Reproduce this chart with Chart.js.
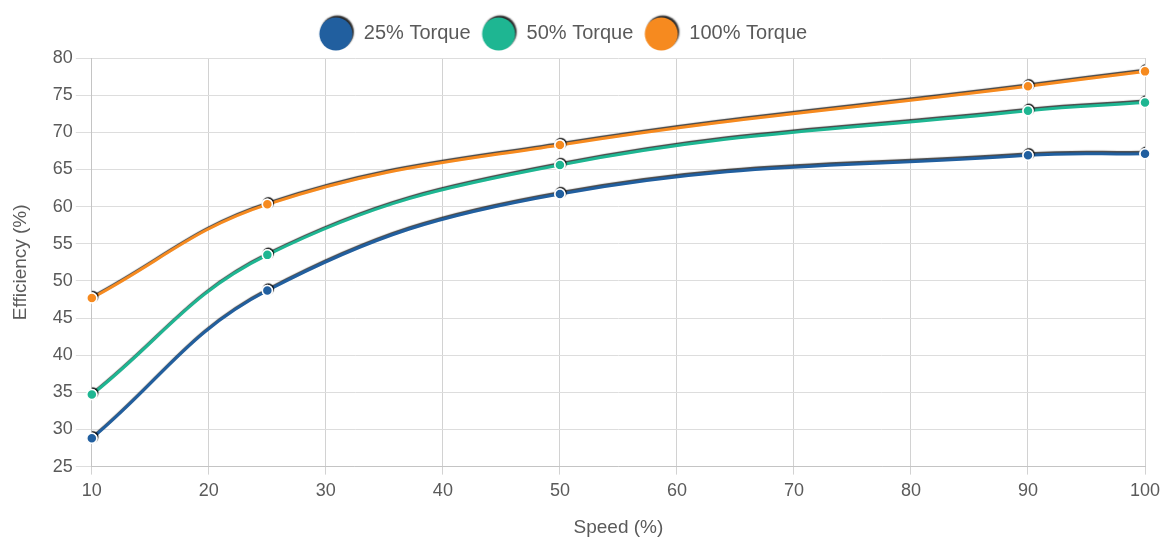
<!DOCTYPE html>
<html lang="en">
<head>
  <meta charset="UTF-8" />
  <title>Efficiency vs Speed</title>
  <script src="https://cdn.jsdelivr.net/npm/chart.js"></script>
  <style>
    html, body {
      margin: 0;
      padding: 0;
      background: #fff;
    }
    .chart-box {
      width: 1163px;
      height: 539px;
    }
  </style>
</head>
<body>
  <div class="chart-box">
    <canvas id="effChart" width="1163" height="539"></canvas>
  </div>

  <script>
    // ------------------------------------------
    // Data
    // ------------------------------------------
    const SPEED = [10, 25, 50, 90, 100];              // Speed (%)
    const TORQUE_25 = [28.8, 48.7, 61.7, 66.9, 67.1];  // Efficiency (%)
    const TORQUE_50 = [34.7, 53.5, 65.6, 72.9, 74.0];
    const TORQUE_100 = [47.7, 60.3, 68.3, 76.2, 78.2];
    const SERIES_LABELS = ['25% Torque', '50% Torque', '100% Torque'];
    const COLORS = ['#215f9f', '#1eb692', '#f68a1f'];

    const FONT = "'Liberation Sans', Arial, sans-serif";

    // pair x / y arrays into points
    function toPoints(ys) {
      return SPEED.map((s, i) => ({ x: s, y: ys[i] }));
    }

    // big round legend markers with a little dark shadow
    function legendDot(color) {
      const c = document.createElement('canvas');
      c.width = 42;
      c.height = 42;
      const g = c.getContext('2d');
      g.shadowColor = 'rgba(0,0,0,0.85)';
      g.shadowBlur = 1.5;
      g.shadowOffsetX = 1.5;
      g.shadowOffsetY = -2;
      g.beginPath();
      g.arc(20, 22, 16.5, 0, Math.PI * 2);
      g.fillStyle = color;
      g.fill();
      return c;
    }

    const dots = COLORS.map(legendDot);

    const datasets = [TORQUE_25, TORQUE_50, TORQUE_100].map((ys, i) => ({
      label: SERIES_LABELS[i],
      data: toPoints(ys),
      borderColor: COLORS[i],
      backgroundColor: COLORS[i],
      borderWidth: 3,
      tension: 0.4,
      pointRadius: 5,
      pointBorderWidth: 1.5,
      pointBorderColor: '#ffffff',
      pointBackgroundColor: COLORS[i],
      fill: false
    }));

    // dark offset shadow under the lines and points,
    // then points drawn again on top without it
    const shadowPlugin = {
      id: 'lineShadow',
      beforeDatasetsDraw(chart) {
        const ctx = chart.ctx;
        ctx.save();
        ctx.shadowColor = 'rgba(0,0,0,0.75)';
        ctx.shadowBlur = 1;
        ctx.shadowOffsetX = 1;
        ctx.shadowOffsetY = -1.5;
      },
      afterDatasetsDraw(chart) {
        const ctx = chart.ctx;
        ctx.restore();
        chart.data.datasets.forEach((ds, i) => {
          chart.getDatasetMeta(i).data.forEach(pt => pt.draw(ctx, chart.chartArea));
        });
      }
    };

    // a bit more room under the legend, and nudge it left
    const legendTweak = {
      id: 'legendTweak',
      beforeLayout(chart) {
        const lg = chart.legend;
        if (lg && !lg._tweaked) {
          const fit = lg.fit;
          lg.fit = function () {
            fit.call(this);
            this.height += 5;
          };
          lg._tweaked = true;
        }
      },
      afterLayout(chart) {
        const lg = chart.legend;
        if (lg) {
          lg.left -= 18;
          lg.right -= 18;
        }
      }
    };

    // ------------------------------------------
    // Chart
    // ------------------------------------------
    const ctx = document.getElementById('effChart').getContext('2d');
    new Chart(ctx, {
      type: 'line',
      data: { datasets: datasets },
      plugins: [shadowPlugin, legendTweak],
      options: {
        responsive: false,
        animation: false,
        layout: { padding: { top: 11 } },
        scales: {
          x: {
            type: 'linear',
            min: 10,
            max: 100,
            afterFit(axis) {
              axis.paddingRight = 18;
            },
            ticks: {
              stepSize: 10,
              color: '#5a5a5a',
              padding: 6,
              font: { family: FONT, size: 18 }
            },
            grid: { color: '#d2d2d2', tickLength: 8 },
            border: { color: '#c4c4c4' },
            title: {
              display: true,
              text: 'Speed (%)',
              color: '#5a5a5a',
              font: { family: FONT, size: 19 },
              padding: { top: 8, bottom: 0 }
            }
          },
          y: {
            min: 25,
            max: 80,
            ticks: {
              stepSize: 5,
              color: '#5a5a5a',
              padding: 3,
              font: { family: FONT, size: 18 }
            },
            grid: { color: '#dddddd', tickLength: 16 },
            border: { color: '#c4c4c4' },
            title: {
              display: true,
              text: 'Efficiency (%)',
              color: '#5a5a5a',
              font: { family: FONT, size: 19 },
              padding: { top: 9, bottom: 18 }
            }
          }
        },
        plugins: {
          tooltip: { enabled: false },
          legend: {
            display: true,
            position: 'top',
            labels: {
              usePointStyle: true,
              pointStyleWidth: 34,
              padding: 12,
              color: '#5a5a5a',
              font: { family: FONT, size: 20 },
              generateLabels(chart) {
                const items = Chart.defaults.plugins.legend.labels.generateLabels(chart);
                items.forEach((it, i) => { it.pointStyle = dots[i]; });
                return items;
              }
            }
          }
        }
      }
    });
  </script>
</body>
</html>
